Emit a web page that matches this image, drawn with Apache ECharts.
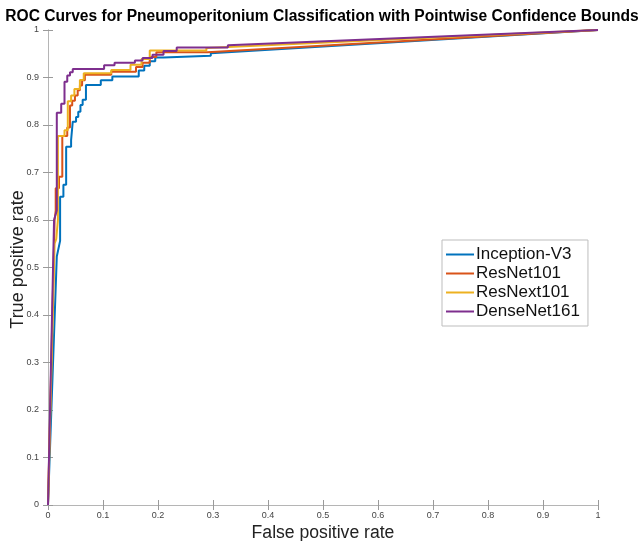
<!DOCTYPE html>
<html>
<head>
<meta charset="utf-8">
<script src="https://cdn.jsdelivr.net/npm/echarts@6/dist/echarts.min.js"></script>
<style>
  html, body { margin: 0; padding: 0; background: #fff; }
  #myChart { width: 644px; height: 541px; }
</style>
</head>
<body>
<div id="myChart"></div>
<script>
  // ROC points [fpr, tpr] (step corners included)
  const inceptionV3 = [
    [0, 0], [0.016, 0.523], [0.022, 0.556], [0.022, 0.649], [0.028, 0.649], [0.028, 0.674],
    [0.033, 0.674], [0.033, 0.754], [0.042, 0.754], [0.042, 0.768], [0.045, 0.768], [0.045, 0.807],
    [0.051, 0.807], [0.051, 0.817], [0.055, 0.817], [0.055, 0.828], [0.059, 0.828], [0.059, 0.842],
    [0.063, 0.842], [0.063, 0.853], [0.069, 0.853], [0.069, 0.884], [0.096, 0.884], [0.096, 0.894],
    [0.117, 0.894], [0.117, 0.902], [0.165, 0.902], [0.165, 0.915], [0.175, 0.915], [0.175, 0.925],
    [0.185, 0.925], [0.185, 0.934], [0.195, 0.934], [0.195, 0.942], [0.21, 0.942], [0.21, 0.946],
    [0.296, 0.946], [0.296, 0.951], [1, 1]
  ];
  const resNet101 = [
    [0, 0], [0.012, 0.6], [0.014, 0.62], [0.014, 0.667], [0.02, 0.667], [0.02, 0.691],
    [0.026, 0.691], [0.026, 0.777], [0.035, 0.777], [0.035, 0.795], [0.04, 0.795], [0.04, 0.841],
    [0.044, 0.841], [0.044, 0.851], [0.049, 0.851], [0.049, 0.862], [0.054, 0.862], [0.054, 0.873],
    [0.058, 0.873], [0.058, 0.883], [0.062, 0.883], [0.062, 0.894], [0.067, 0.894], [0.067, 0.906],
    [0.115, 0.906], [0.115, 0.912], [0.16, 0.912], [0.16, 0.922], [0.172, 0.922], [0.172, 0.931],
    [0.185, 0.931], [0.185, 0.943], [0.197, 0.943], [0.197, 0.953], [0.29, 0.953], [0.29, 0.957],
    [1, 1]
  ];
  const resNext101 = [
    [0, 0], [0.012, 0.55], [0.015, 0.56], [0.018, 0.6], [0.018, 0.777], [0.03, 0.777],
    [0.03, 0.789], [0.036, 0.789], [0.036, 0.85], [0.042, 0.85], [0.042, 0.862], [0.048, 0.862],
    [0.048, 0.876], [0.058, 0.876], [0.058, 0.895], [0.065, 0.895], [0.065, 0.909], [0.115, 0.909],
    [0.115, 0.916], [0.15, 0.916], [0.15, 0.927], [0.17, 0.927], [0.17, 0.939], [0.185, 0.939],
    [0.185, 0.957], [0.288, 0.957], [0.288, 0.962], [1, 1]
  ];
  const denseNet161 = [
    [0, 0], [0.011, 0.6], [0.016, 0.62], [0.016, 0.826], [0.024, 0.826], [0.024, 0.845],
    [0.03, 0.845], [0.03, 0.891], [0.035, 0.891], [0.035, 0.904], [0.04, 0.904], [0.04, 0.911],
    [0.045, 0.911], [0.045, 0.918], [0.102, 0.918], [0.102, 0.926], [0.121, 0.926], [0.121, 0.931],
    [0.158, 0.931], [0.158, 0.936], [0.172, 0.936], [0.172, 0.941], [0.19, 0.941], [0.19, 0.948],
    [0.21, 0.948], [0.21, 0.956], [0.234, 0.956], [0.234, 0.963], [0.327, 0.963], [0.327, 0.968],
    [1, 1]
  ];

  const seriesNames = ['Inception-V3', 'ResNet101', 'ResNext101', 'DenseNet161'];
  const seriesData = [inceptionV3, resNet101, resNext101, denseNet161];
  const colors = ['#0072BD', '#D95319', '#EDB120', '#7E2F8E'];

  let myChart = echarts.init(document.getElementById('myChart'));

  const tickStyle = { show: true, inside: true, length: 5, lineStyle: { color: '#9a9a9a' } };
  const lineStyle = { show: true, lineStyle: { color: '#b5b5b5', width: 1 } };
  const labelStyle = { color: '#444', fontSize: 9, fontFamily: 'Liberation Sans' };

  let option = {
    animation: false,
    color: colors,
    title: {
      text: 'ROC Curves for Pneumoperitonium Classification with Pointwise Confidence Bounds',
      left: 'center',
      top: 4,
      textStyle: { fontSize: 15.6, fontWeight: 'bold', color: '#000', fontFamily: 'Liberation Sans' }
    },
    legend: {
      data: seriesNames,
      orient: 'vertical',
      left: 442,
      top: 240,
      padding: [6, 8, 6, 4],
      itemGap: 2,
      itemWidth: 28,
      itemHeight: 2,
      icon: 'rect',
      borderColor: '#bdbdbd',
      borderWidth: 1,
      backgroundColor: '#fff',
      textStyle: { fontSize: 17, color: '#111', fontFamily: 'Liberation Sans', padding: [0, 0, 0, -3] }
    },
    grid: { left: 48, right: 46, top: 30, bottom: 36, containLabel: false, outerBoundsMode: 'none' },
    xAxis: [
      {
        type: 'value', min: 0, max: 1, interval: 0.1,
        name: 'False positive rate', nameLocation: 'middle', nameGap: 19, nameMoveOverlap: false,
        nameTextStyle: { fontSize: 17.6, color: '#222', fontFamily: 'Liberation Sans' },
        axisLine: lineStyle, axisTick: tickStyle,
        axisLabel: Object.assign({ margin: 6 }, labelStyle),
        splitLine: { show: false }
      },
      {
        type: 'value', min: 0, max: 1, interval: 0.1, position: 'top',
        axisLine: lineStyle, axisTick: tickStyle,
        axisLabel: { show: false }, splitLine: { show: false }
      }
    ],
    yAxis: [
      {
        type: 'value', min: 0, max: 1, interval: 0.1,
        name: 'True positive rate', nameLocation: 'middle', nameGap: 21, nameMoveOverlap: false,
        nameTextStyle: { fontSize: 18, color: '#222', fontFamily: 'Liberation Sans', padding: [0, 0, 0, 16] },
        axisLine: lineStyle, axisTick: tickStyle,
        axisLabel: Object.assign({ margin: 9 }, labelStyle),
        splitLine: { show: false }
      },
      {
        type: 'value', min: 0, max: 1, interval: 0.1, position: 'right',
        axisLine: lineStyle, axisTick: tickStyle,
        axisLabel: { show: false }, splitLine: { show: false }
      }
    ],
    series: seriesNames.map(function (name, i) {
      return {
        name: name,
        type: 'line',
        data: seriesData[i],
        showSymbol: false,
        symbol: 'none',
        lineStyle: { width: 2, color: colors[i] },
        itemStyle: { color: colors[i] }
      };
    })
  };
  myChart.setOption(option);
</script>
</body>
</html>
